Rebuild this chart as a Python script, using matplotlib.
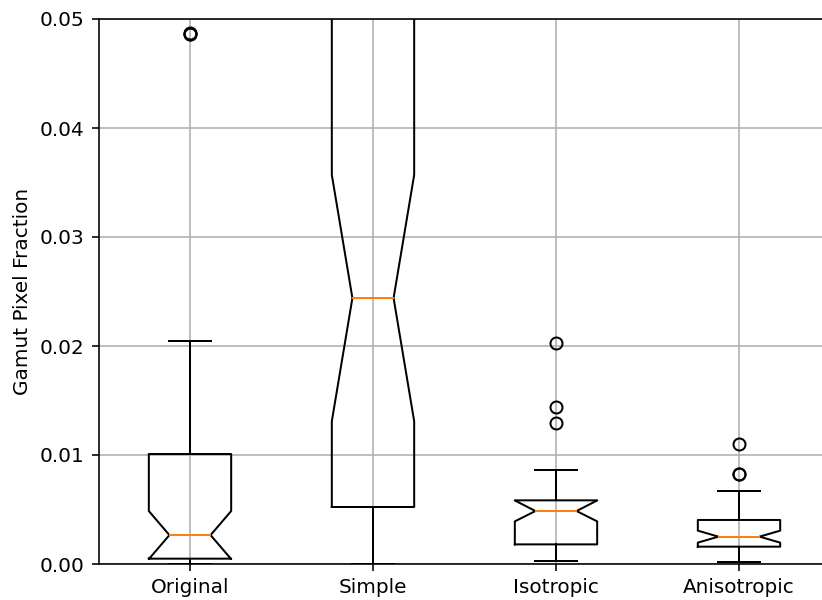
import matplotlib
matplotlib.use('Agg')
import matplotlib.pyplot as plt

labels = ['Original', 'Simple', 'Isotropic', 'Anisotropic']
med = [0.00265, 0.0244, 0.00486, 0.00251]
q1 = [0.00049, 0.00523, 0.00180, 0.00159]
q3 = [0.01009, 0.0620, 0.00584, 0.00404]
whislo = [0.00002, 0.0, 0.00030, 0.00016]
whishi = [0.02046, 0.1200, 0.00862, 0.00670]
cilo = [0.00045, 0.0131, 0.00391, 0.00196]
cihi = [0.00486, 0.0357, 0.00583, 0.00306]
fliers = [
    [0.0486, 0.0486, 0.0487],
    [],
    [0.01297, 0.01443, 0.02025],
    [0.00826, 0.00826, 0.01104],
]

stats = []
for i, name in enumerate(labels):
    stats.append({
        'label': name, 'med': med[i], 'q1': q1[i], 'q3': q3[i],
        'whislo': whislo[i], 'whishi': whishi[i],
        'cilo': cilo[i], 'cihi': cihi[i], 'fliers': fliers[i],
    })

# the reference is cropped on the right, so the axes runs past the figure edge
fig = plt.figure(figsize=(822 / 144, 600 / 144), dpi=144)
ax = fig.add_axes([98.5 / 822, 36 / 600, 732 / 822, 545 / 600])
ax.bxp(stats, shownotches=True, widths=0.45)
ax.set_ylim(0, 0.05)
ax.set_ylabel('Gamut Pixel Fraction')
ax.grid(True)

fig.savefig('out.png', dpi=144)
